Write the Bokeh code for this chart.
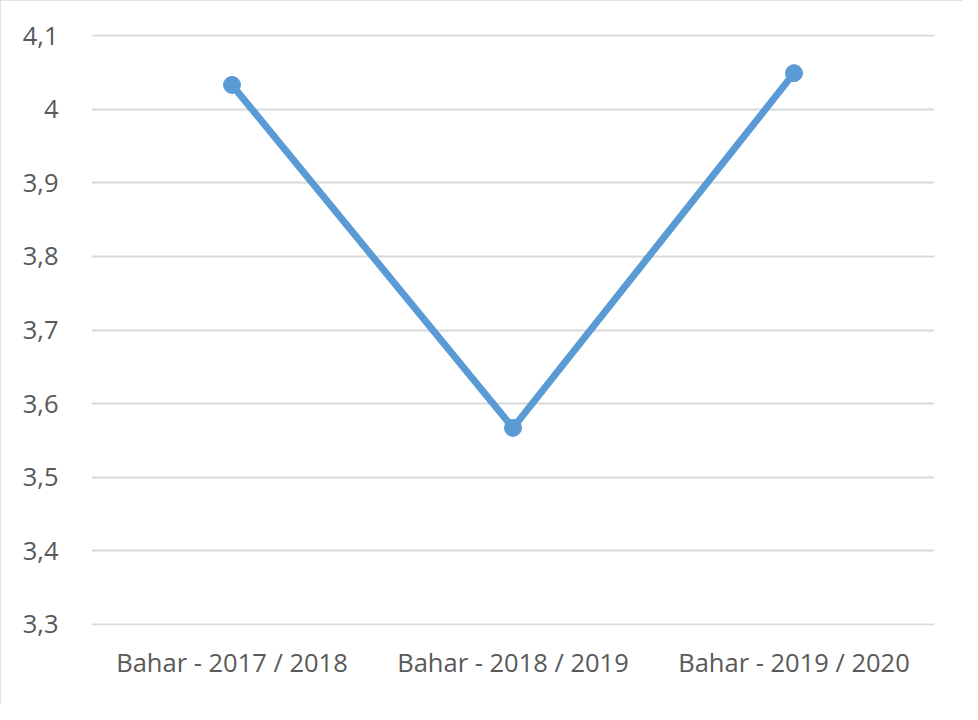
from bokeh.plotting import figure
from bokeh.models import Range1d, FactorRange, FixedTicker, ColumnDataSource
from bokeh.embed import file_html
from bokeh.resources import INLINE

categories = ["Bahar - 2017 / 2018", "Bahar - 2018 / 2019", "Bahar - 2019 / 2020"]
values = [4.033, 3.567, 4.049]
tick_values = [3.3, 3.4, 3.5, 3.6, 3.7, 3.8, 3.9, 4.0, 4.1]
tick_labels = ["3,3", "3,4", "3,5", "3,6", "3,7", "3,8", "3,9", "4", "4,1"]

src = ColumnDataSource(dict(x=categories, y=values))

p = figure(
    width=962, height=704,
    x_range=FactorRange(*categories),
    y_range=Range1d(3.2985, 4.1015),
    output_backend="svg", toolbar_location=None,
    min_border_left=91, min_border_right=28, min_border_top=34, min_border_bottom=79,
)
p.styles = {"outline": "2px solid #d9d9d9", "outline-offset": "-2px"}
p.outline_line_color = None
p.background_fill_color = "white"
p.border_fill_color = "white"

p.xgrid.grid_line_color = None
p.ygrid.grid_line_color = "#d9d9d9"
p.ygrid.grid_line_width = 2

p.yaxis.ticker = FixedTicker(ticks=tick_values)
p.yaxis.major_label_overrides = {v: l for v, l in zip(tick_values, tick_labels)}
for ax in (p.xaxis[0], p.yaxis[0]):
    ax.axis_line_color = None
    ax.major_tick_line_color = None
    ax.minor_tick_line_color = None
    ax.major_label_text_font = "Open Sans"
    ax.major_label_text_font_size = "25.5px"
    ax.major_label_text_color = "#595959"
p.yaxis.major_label_standoff = 27
p.xaxis.major_label_standoff = 13

p.line("x", "y", source=src, line_color="#5b9bd5", line_width=7, line_join="round")
p.scatter("x", "y", source=src, size=17, fill_color="#5b9bd5", line_color="#5b9bd5")

open("out.html", "w").write(file_html(p, INLINE))
